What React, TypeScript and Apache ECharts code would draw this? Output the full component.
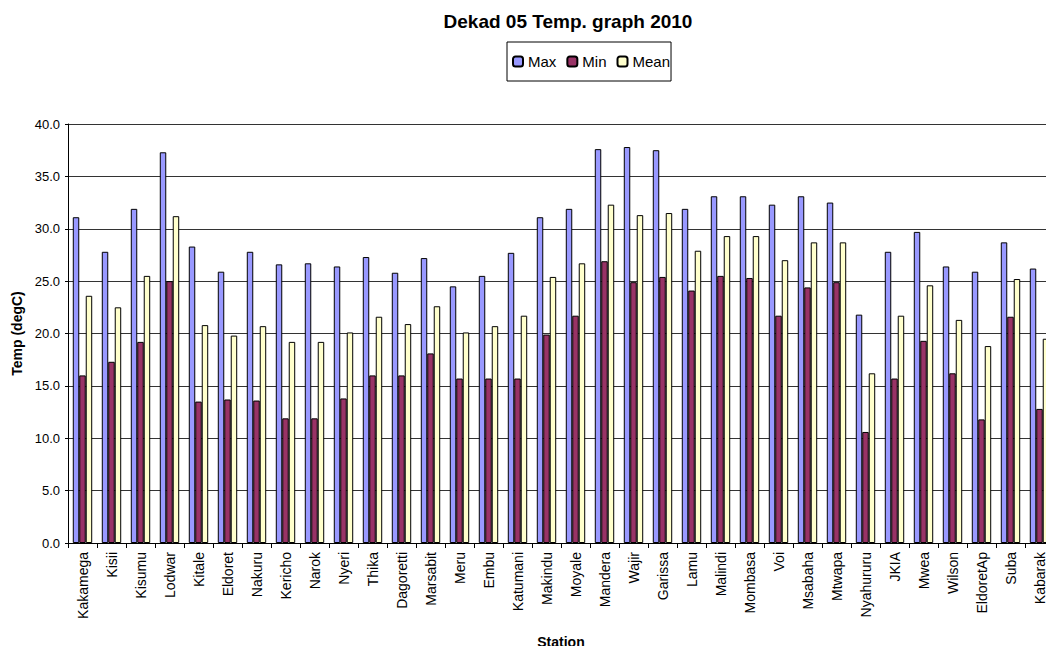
import React, { useEffect, useRef } from "react";
import * as echarts from "echarts";

const stations = [
  "Kakamega", "Kisii", "Kisumu", "Lodwar", "Kitale", "Eldoret", "Nakuru", "Kericho", "Narok", "Nyeri",
  "Thika", "Dagoretti", "Marsabit", "Meru", "Embu", "Katumani", "Makindu", "Moyale", "Mandera", "Wajir",
  "Garissa", "Lamu", "Malindi", "Mombasa", "Voi", "Msabaha", "Mtwapa", "Nyahururu", "JKIA", "Mwea",
  "Wilson", "EldoretAp", "Suba", "Kabarak",
];

const maxTemp = [
  31.1, 27.8, 31.9, 37.3, 28.3, 25.9, 27.8, 26.6, 26.7, 26.4,
  27.3, 25.8, 27.2, 24.5, 25.5, 27.7, 31.1, 31.9, 37.6, 37.8,
  37.5, 31.9, 33.1, 33.1, 32.3, 33.1, 32.5, 21.8, 27.8, 29.7,
  26.4, 25.9, 28.7, 26.2,
];

const minTemp = [
  16.0, 17.3, 19.2, 25.0, 13.5, 13.7, 13.6, 11.9, 11.9, 13.8,
  16.0, 16.0, 18.1, 15.7, 15.7, 15.7, 19.9, 21.7, 26.9, 24.9,
  25.4, 24.1, 25.5, 25.3, 21.7, 24.4, 24.9, 10.6, 15.7, 19.3,
  16.2, 11.8, 21.6, 12.8,
];

const meanTemp = [
  23.6, 22.5, 25.5, 31.2, 20.8, 19.8, 20.7, 19.2, 19.2, 20.1,
  21.6, 20.9, 22.6, 20.1, 20.7, 21.7, 25.4, 26.7, 32.3, 31.3,
  31.5, 27.9, 29.3, 29.3, 27.0, 28.7, 28.7, 16.2, 21.7, 24.6,
  21.3, 18.8, 25.2, 19.5,
];

const yTicks = { min: 0, max: 40, interval: 5 };

export default function App() {
  const ref = useRef<HTMLDivElement>(null);

  useEffect(() => {
    if (!ref.current) return;
    const chart = echarts.init(ref.current, null, { renderer: "svg" });
    const font = "'Liberation Sans', Arial, sans-serif";
    const barStyle = (color: string) => ({ color, borderColor: "#000", borderWidth: 1 });
    chart.setOption({
      animation: false,
      backgroundColor: "#fff",
      textStyle: { fontFamily: font },
      title: {
        text: "Dekad 05 Temp. graph 2010",
        left: 563,
        top: 7,
        textAlign: "center",
        textStyle: { fontSize: 19, fontWeight: "bold", color: "#000", fontFamily: font },
      },
      legend: {
        left: 507,
        top: 42,
        itemWidth: 10,
        itemHeight: 10,
        itemGap: 10,
        borderColor: "#000",
        borderWidth: 1,
        borderRadius: 0,
        padding: [12, 1, 12, 5],
        textStyle: { fontSize: 15, color: "#000", fontFamily: font, padding: [0, 0, 0, 0] },
        data: ["Max", "Min", "Mean"],
      },
      grid: { left: 68, top: 124, width: 990, height: 422, containLabel: false },
      xAxis: {
        type: "category",
        data: stations,
        name: "Station",
        nameLocation: "middle",
        nameGap: 92,
        nameTextStyle: { fontSize: 14, fontWeight: "bold", color: "#000", fontFamily: font },
        axisLine: { lineStyle: { color: "#000" } },
        axisTick: { show: true, length: 5, lineStyle: { color: "#000" } },
        axisLabel: { rotate: 90, fontSize: 14, color: "#000", margin: 9, interval: 0, fontFamily: font },
      },
      yAxis: {
        type: "value",
        min: yTicks.min,
        max: yTicks.max,
        interval: yTicks.interval,
        name: "Temp (degC)",
        nameLocation: "middle",
        nameGap: 44,
        nameTextStyle: { fontSize: 14, fontWeight: "bold", color: "#000", fontFamily: font },
        axisLine: { show: true, lineStyle: { color: "#000" } },
        axisTick: { show: true, length: 3, lineStyle: { color: "#000" } },
        axisLabel: { fontSize: 13, color: "#000", margin: 8, formatter: (v: number) => v.toFixed(1), fontFamily: font },
        splitLine: { show: true, lineStyle: { color: "#333", width: 1 } },
      },
      series: [
        { name: "Max", type: "bar", data: maxTemp, barGap: "0%", barCategoryGap: "33%", itemStyle: barStyle("#9999FF") },
        { name: "Min", type: "bar", data: minTemp, barGap: "0%", barCategoryGap: "33%", itemStyle: barStyle("#993366") },
        { name: "Mean", type: "bar", data: meanTemp, barGap: "0%", barCategoryGap: "33%", itemStyle: barStyle("#FFFFCC") },
      ],
    });
    return () => chart.dispose();
  }, []);

  return <div ref={ref} style={{ width: 1054, height: 654, margin: -8 }} />;
}
